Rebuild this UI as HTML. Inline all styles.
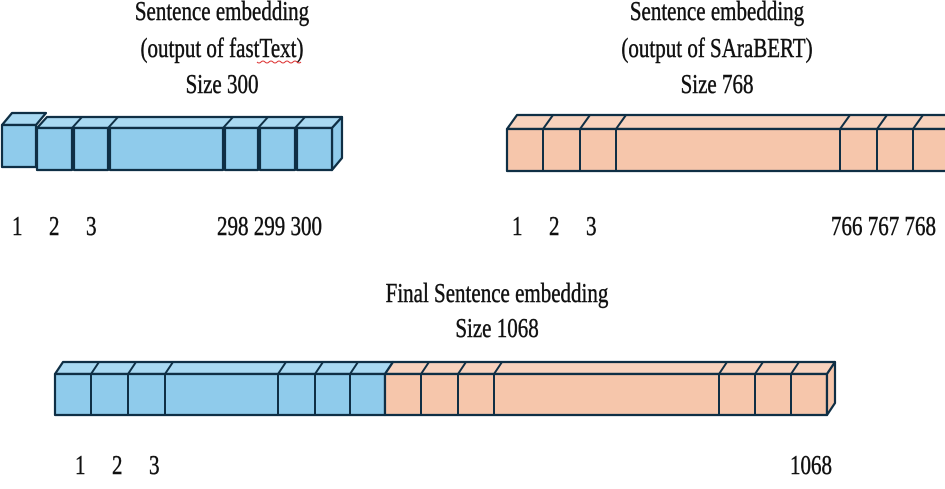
<!DOCTYPE html>
<html><head><meta charset="utf-8"><style>
html,body{margin:0;padding:0;background:#fff;}
svg{display:block;}
text{font-family:"Liberation Serif",serif;font-size:21px;fill:#111;stroke:#111;stroke-width:0.35;}
</style></head><body>
<svg width="945" height="489" viewBox="0 0 945 489" xmlns="http://www.w3.org/2000/svg">
<defs>
<style>
.b{fill:#8fcbeb;stroke:#0f2f45;stroke-width:2.2;stroke-linejoin:round}
.bt{fill:#a9d9f2;stroke:#0f2f45;stroke-width:2.2;stroke-linejoin:round}
.o{fill:#f6c6ab;stroke:#0f2f45;stroke-width:2.2;stroke-linejoin:round}
.ot{fill:#f8d2bd;stroke:#0f2f45;stroke-width:2.2;stroke-linejoin:round}
</style>
</defs>

<g>
  <polygon class="bt" points="2,125 12,113 46,113 36,125"/>
  <rect class="b" x="2" y="125" width="34" height="42"/>
  <polygon class="bt" points="37,128 47,117 342,117 332,128"/>
  <polygon class="b" points="332,128 342,117 342,158 332,170"/>
  <rect class="b" x="37" y="128" width="35" height="42"/>
  <rect class="b" x="74" y="128" width="34" height="42"/>
  <rect class="b" x="110" y="128" width="113" height="42"/>
  <rect class="b" x="225" y="128" width="33" height="42"/>
  <rect class="b" x="260" y="128" width="35" height="42"/>
  <rect class="b" x="297" y="128" width="35" height="42"/>
  <g stroke="#0f2f45" stroke-width="2">
    <line x1="72" y1="128" x2="82" y2="117"/><line x1="108" y1="128" x2="118" y2="117"/>
    <line x1="223" y1="128" x2="233" y2="117"/><line x1="258" y1="128" x2="268" y2="117"/>
    <line x1="295" y1="128" x2="305" y2="117"/>
  </g>
</g>

<g>
  <polygon class="ot" points="507,129 517,115 950,115 950,129"/>
  <rect class="o" x="507" y="129" width="445" height="42"/>
  <g stroke="#0f2f45" stroke-width="2">
    <line x1="543" y1="129" x2="543" y2="171"/><line x1="543" y1="129" x2="553" y2="115"/>
    <line x1="580" y1="129" x2="580" y2="171"/><line x1="580" y1="129" x2="590" y2="115"/>
    <line x1="616" y1="129" x2="616" y2="171"/><line x1="616" y1="129" x2="626" y2="115"/>
    <line x1="840" y1="129" x2="840" y2="171"/><line x1="840" y1="129" x2="850" y2="115"/>
    <line x1="877" y1="129" x2="877" y2="171"/><line x1="877" y1="129" x2="887" y2="115"/>
    <line x1="913" y1="129" x2="913" y2="171"/><line x1="913" y1="129" x2="923" y2="115"/>
  </g>
</g>

<g>
  <polygon class="bt" points="55,374 63,362 393,362 385,374"/>
  <polygon class="ot" points="385,374 393,362 835,362 827,374"/>
  <rect class="b" x="55" y="374" width="330" height="41"/>
  <rect class="o" x="385" y="374" width="442" height="41"/>
  <polygon class="o" points="827,374 835,362 835,403 827,415"/>
  <g stroke="#0f2f45" stroke-width="2">
    <line x1="91" y1="374" x2="91" y2="415"/><line x1="91" y1="374" x2="99" y2="362"/>
    <line x1="128" y1="374" x2="128" y2="415"/><line x1="128" y1="374" x2="136" y2="362"/>
    <line x1="165" y1="374" x2="165" y2="415"/><line x1="165" y1="374" x2="173" y2="362"/>
    <line x1="278" y1="374" x2="278" y2="415"/><line x1="278" y1="374" x2="286" y2="362"/>
    <line x1="315" y1="374" x2="315" y2="415"/><line x1="315" y1="374" x2="323" y2="362"/>
    <line x1="350" y1="374" x2="350" y2="415"/><line x1="350" y1="374" x2="358" y2="362"/>
    <line x1="421" y1="374" x2="421" y2="415"/><line x1="421" y1="374" x2="429" y2="362"/>
    <line x1="458" y1="374" x2="458" y2="415"/><line x1="458" y1="374" x2="466" y2="362"/>
    <line x1="494" y1="374" x2="494" y2="415"/><line x1="494" y1="374" x2="502" y2="362"/>
    <line x1="719" y1="374" x2="719" y2="415"/><line x1="719" y1="374" x2="727" y2="362"/>
    <line x1="755" y1="374" x2="755" y2="415"/><line x1="755" y1="374" x2="763" y2="362"/>
    <line x1="791" y1="374" x2="791" y2="415"/><line x1="791" y1="374" x2="799" y2="362"/>
  </g>
</g>

<g text-anchor="middle">
  <g transform="translate(222,20) scale(1,1.3)"><text>Sentence embedding</text></g>
  <g transform="translate(222,57) scale(1,1.3)"><text>(output of fastText)</text></g>
  <g transform="translate(222,93) scale(1,1.3)"><text>Size 300</text></g>
  <g transform="translate(717,20) scale(1,1.3)"><text>Sentence embedding</text></g>
  <g transform="translate(717,57) scale(1,1.3)"><text>(output of SAraBERT)</text></g>
  <g transform="translate(717,93) scale(1,1.3)"><text>Size 768</text></g>
  <g transform="translate(497,302) scale(1,1.3)"><text>Final Sentence embedding</text></g>
  <g transform="translate(497,337) scale(1,1.3)"><text>Size 1068</text></g>
</g>
<path d="M257,62 q2,2 4,0 t4,0 t4,0 t4,0 t4,0 t4,0 t4,0 t4,0 t4,0 t4,0 t4,0" stroke="#d33" stroke-width="1" fill="none"/>

<g>
  <g transform="translate(12,235) scale(1,1.3)"><text>1</text></g>
  <g transform="translate(49,235) scale(1,1.3)"><text>2</text></g>
  <g transform="translate(86,235) scale(1,1.3)"><text>3</text></g>
  <g transform="translate(217,235) scale(1,1.3)"><text>298 299 300</text></g>
  <g transform="translate(512,235) scale(1,1.3)"><text>1</text></g>
  <g transform="translate(549,235) scale(1,1.3)"><text>2</text></g>
  <g transform="translate(586,235) scale(1,1.3)"><text>3</text></g>
  <g transform="translate(831,235) scale(1,1.3)"><text>766 767 768</text></g>
  <g transform="translate(75,474) scale(1,1.3)"><text>1</text></g>
  <g transform="translate(112,474) scale(1,1.3)"><text>2</text></g>
  <g transform="translate(149,474) scale(1,1.3)"><text>3</text></g>
  <g transform="translate(790,474) scale(1,1.3)"><text>1068</text></g>
</g>
</svg>
</body></html>
